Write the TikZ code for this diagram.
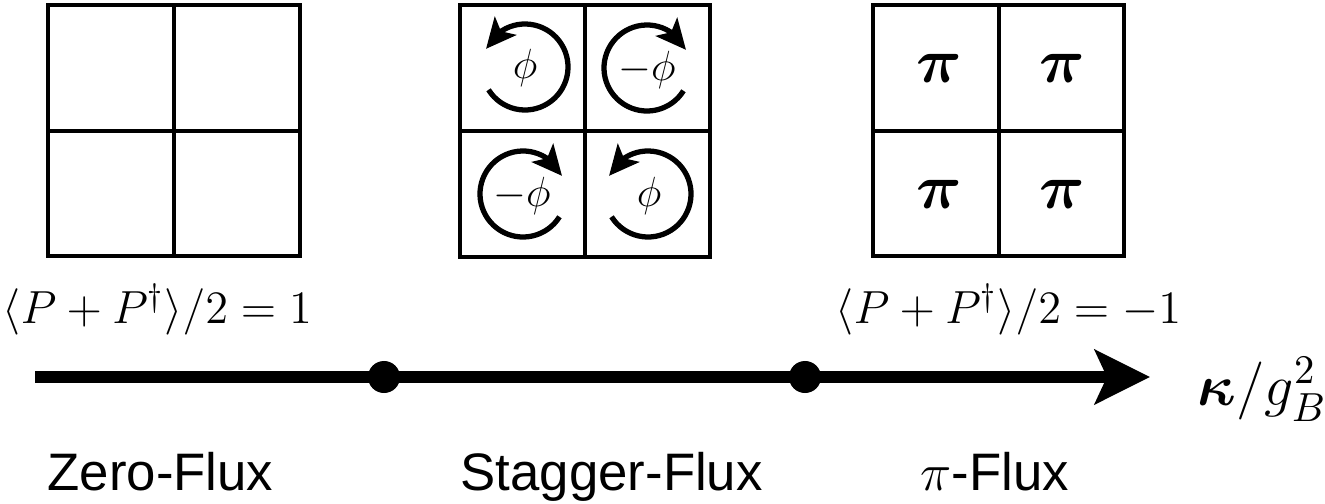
\RequirePackage{fix-cm}
\documentclass[tikz,border=0pt]{standalone}
\usepackage{amsmath}
\usepackage{fontspec}
\setsansfont{Liberation Sans}
\usetikzlibrary{arrows.meta,bending}

\begin{document}
\begin{tikzpicture}[x=0.01cm,y=0.01cm,
  cell/.style={line width=0.9pt},
  spin/.style={line width=1.5pt,-{Stealth[length=0.3cm,width=0.28cm,inset=0.07cm]}},
  fluxtxt/.style={font=\fontsize{12}{14}\selectfont,inner sep=0pt},
  pitxt/.style={font=\fontsize{18}{21}\selectfont,inner sep=0pt},
  phase/.style={font=\sffamily\fontsize{15}{18}\selectfont,anchor=base west,inner sep=0pt},
  order/.style={font=\fontsize{13.2}{16}\selectfont,anchor=base west,inner sep=0pt},
  dot/.style={circle,fill,inner sep=0pt,minimum size=0.32cm}]
\useasboundingbox (0,0) rectangle (1325,-503);
% zero flux
\draw[cell] (48,-5) rectangle (300,-256) (174,-5) -- (174,-256) (48,-131) -- (300,-131);
% stagger flux
\draw[cell] (460,-5) rectangle (710,-257) (585,-5) -- (585,-257) (460,-131) -- (710,-131);
\draw[spin] (525,-67) ++(212:43) arc[start angle=212,end angle=515,radius=43];
\draw[spin] (647,-68) ++(-32:43) arc[start angle=-32,end angle=-335,radius=43];
\draw[spin] (523,-194) ++(-32:43) arc[start angle=-32,end angle=-335,radius=43];
\draw[spin] (648,-194) ++(212:43) arc[start angle=212,end angle=515,radius=43];
\node[fluxtxt] (f1) at (525,-68) {$\phi$};
\node[fluxtxt] (f2) at (647,-70) {$-\phi$};
\node[fluxtxt] (f3) at (522,-196) {$-\phi$};
\node[fluxtxt] (f4) at (649,-196) {$\phi$};
% pi flux
\draw[cell] (873,-5) rectangle (1124,-256) (999,-5) -- (999,-256) (873,-131) -- (1124,-131);
\node[pitxt] (p1) at (939,-68) {$\boldsymbol{\pi}$};
\node[pitxt] (p2) at (1062,-68) {$\boldsymbol{\pi}$};
\node[pitxt] (p3) at (939,-194) {$\boldsymbol{\pi}$};
\node[pitxt] (p4) at (1062,-194) {$\boldsymbol{\pi}$};
% axis
\coordinate (ax0) at (35,-377);
\coordinate (ax1) at (1150,-377);
\draw[line width=0.12cm,-{Stealth[length=0.55cm,width=0.54cm,inset=0.12cm]}] (ax0) -- (ax1);
\node[dot] (d1) at (384,-377) {};
\node[dot] (d2) at (805,-377) {};
\node[anchor=base west,inner sep=0pt,font=\fontsize{16.5}{19}\selectfont] (kap) at (1197,-405) {$\boldsymbol{\kappa}/g_B^2$};
\node[order] (o1) at (2,-323) {$\langle P+P^\dagger\rangle/2=1$};
\node[order] (o2) at (835,-323) {$\langle P+P^\dagger\rangle/2=-1$};
\node[phase] (z) at (47,-490) {Zero-Flux};
\node[phase] (s) at (460,-490) {Stagger-Flux};
\node[phase] (pf) at (920,-490) {$\pi$-Flux};
\end{tikzpicture}
\end{document}
